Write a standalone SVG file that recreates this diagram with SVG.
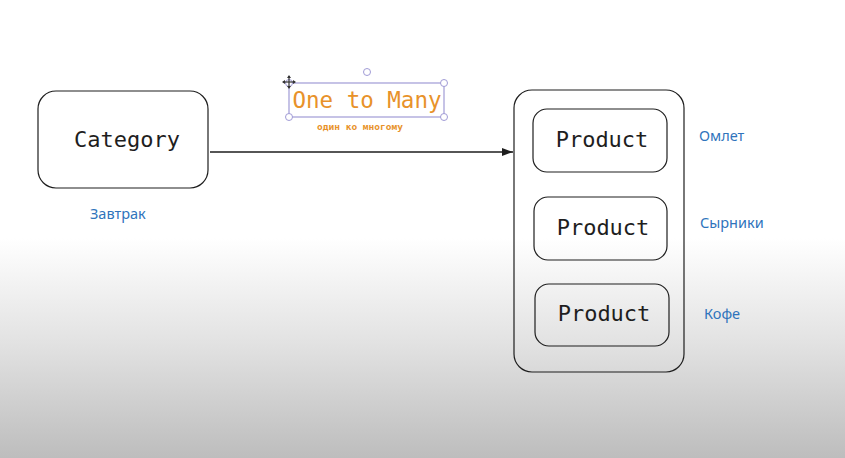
<svg xmlns="http://www.w3.org/2000/svg" width="845" height="458" viewBox="0 0 845 458">
<defs>
<linearGradient id="bg" x1="0" y1="0" x2="0" y2="1">
<stop offset="0" stop-color="#ffffff"/>
<stop offset="0.52" stop-color="#ffffff"/>
<stop offset="0.75" stop-color="#e2e2e2"/>
<stop offset="1" stop-color="#bdbdbd"/>
</linearGradient>
<marker id="arr" markerWidth="12" markerHeight="10" refX="11" refY="5" orient="auto" markerUnits="userSpaceOnUse">
<path d="M0,1 L11,5 L0,9 Z" fill="#1e1e1e"/>
</marker>
<style>
.box{fill:none;stroke:#1e1e1e;stroke-width:1.2}
.mono{font-family:"DejaVu Sans Mono","Liberation Mono",monospace;fill:#1e1e1e;font-size:22px;text-anchor:middle}
.lbl{font-family:"Noto Sans","DejaVu Sans",sans-serif;fill:#2f74bc;font-size:14.5px}
.sel{fill:none;stroke:#a09bd6;stroke-width:1.2}
.hdl{fill:#ffffff;stroke:#a09bd6;stroke-width:1}
</style>
</defs>
<rect x="0" y="0" width="845" height="458" fill="url(#bg)"/>
<g id="connectors">
<path d="M210,152 L513,152" stroke="#1e1e1e" stroke-width="1.3" fill="none" marker-end="url(#arr)"/>
</g>
<g id="category">
<rect class="box" x="38" y="91" width="170" height="97" rx="18"/>
<text class="mono" x="127" y="147">Category</text>
</g>
<g id="label-zavtrak">
<text class="lbl" x="90" y="219">Завтрак</text>
</g>
<g id="relation-label">
<rect class="sel" x="289" y="83" width="155" height="34"/>
<circle class="hdl" cx="289" cy="83" r="3.5"/>
<circle class="hdl" cx="444" cy="83" r="3.5"/>
<circle class="hdl" cx="289" cy="117" r="3.5"/>
<circle class="hdl" cx="444" cy="117" r="3.5"/>
<circle class="hdl" cx="367" cy="72" r="3.5"/>
<g stroke="#333" stroke-width="1.2" fill="#333">
<line x1="283" y1="82" x2="295" y2="82"/>
<line x1="289" y1="76" x2="289" y2="88"/>
<path d="M289,75 L287,78 L291,78 Z M289,89 L287,86 L291,86 Z M282,82 L285,80 L285,84 Z M296,82 L293,80 L293,84 Z" stroke="none"/>
</g>
<text x="367" y="108" font-family="DejaVu Sans Mono,Liberation Mono,monospace" font-size="22.5" fill="#e8922a" text-anchor="middle">One to Many</text>
<text x="360" y="130" font-family="DejaVu Sans Mono,Liberation Mono,monospace" font-size="9.5" font-weight="bold" fill="#e8922a" text-anchor="middle">один ко многому</text>
</g>
<g id="container">
<rect class="box" x="514" y="90" width="170" height="282" rx="18"/>
</g>
<g id="product-1">
<rect class="box" x="533" y="109" width="134" height="63" rx="14"/>
<text class="mono" x="602" y="147">Product</text>
</g>
<g id="product-2">
<rect class="box" x="534" y="197" width="133" height="63" rx="14"/>
<text class="mono" x="603" y="235">Product</text>
</g>
<g id="product-3">
<rect class="box" x="535" y="284" width="134" height="62" rx="14"/>
<text class="mono" x="604" y="321">Product</text>
</g>
<g id="labels">
<text class="lbl" x="699" y="141">Омлет</text>
<text class="lbl" x="700" y="228">Сырники</text>
<text class="lbl" x="704" y="319">Кофе</text>
</g>
</svg>
